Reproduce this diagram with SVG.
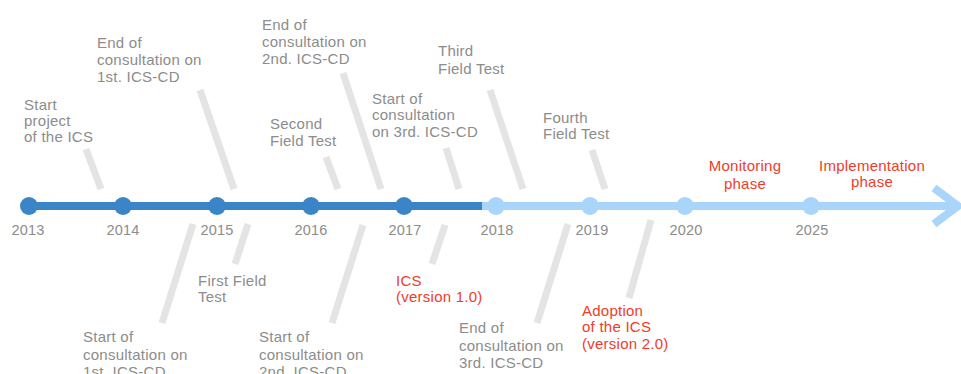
<svg xmlns="http://www.w3.org/2000/svg" width="961" height="374" viewBox="0 0 961 374">
<style>
text{font-family:"Liberation Sans",Arial,sans-serif;font-size:15px;letter-spacing:0.25px;fill:#8c8c8c}
.r{fill:#f03c28}
.yr{text-anchor:middle;font-size:14.5px;letter-spacing:0.2px}
.c{text-anchor:middle}
.bar{stroke:#e4e4e4;stroke-width:7;stroke-linecap:butt;fill:none}
.dk{fill:#3a85c8}
.lt{fill:#a9d5fb}
</style>
<rect width="961" height="374" fill="#ffffff"/>
<g id="connectors">
<line x1="29" y1="206" x2="482" y2="206" stroke="#3a85c8" stroke-width="8"/>
<line x1="482" y1="206" x2="956" y2="206" stroke="#a9d5fb" stroke-width="8"/>
<polyline points="934,188 958,206 934,224" fill="none" stroke="#a9d5fb" stroke-width="8"/>
</g>
<g id="y2013"><circle class="dk" cx="29" cy="206" r="9"/><text class="yr" x="28" y="235">2013</text></g>
<g id="y2014"><circle class="dk" cx="123" cy="206" r="9"/><text class="yr" x="123" y="235">2014</text></g>
<g id="y2015"><circle class="dk" cx="217" cy="206" r="9"/><text class="yr" x="217" y="235">2015</text></g>
<g id="y2016"><circle class="dk" cx="311" cy="206" r="9"/><text class="yr" x="311" y="235">2016</text></g>
<g id="y2017"><circle class="dk" cx="404" cy="206" r="9"/><text class="yr" x="405" y="235">2017</text></g>
<g id="y2018"><circle class="lt" cx="496" cy="206" r="9"/><text class="yr" x="497" y="235">2018</text></g>
<g id="y2019"><circle class="lt" cx="590" cy="206" r="9"/><text class="yr" x="592" y="235">2019</text></g>
<g id="y2020"><circle class="lt" cx="685" cy="206" r="9"/><text class="yr" x="686" y="235">2020</text></g>
<g id="y2025"><circle class="lt" cx="811" cy="206" r="9"/><text class="yr" x="812" y="235">2025</text></g>

<g id="start-project"><line class="bar" x1="86" y1="149" x2="101" y2="189"/>
<text x="24" y="110">Start</text><text x="24" y="126">project</text><text x="24" y="142">of the ICS</text></g>
<g id="end-consult-1"><line class="bar" x1="200" y1="90" x2="234" y2="189"/>
<text x="97" y="48">End of</text><text x="97" y="65">consultation on</text><text x="97" y="82">1st. ICS-CD</text></g>
<g id="second-field-test"><line class="bar" x1="326" y1="157" x2="338" y2="189"/>
<text x="270" y="129">Second</text><text x="270" y="146">Field Test</text></g>
<g id="end-consult-2"><line class="bar" x1="343" y1="73" x2="381" y2="189"/>
<text x="262" y="30">End of</text><text x="262" y="47">consultation on</text><text x="262" y="64">2nd. ICS-CD</text></g>
<g id="start-consult-3"><line class="bar" x1="446" y1="148" x2="459" y2="189"/>
<text x="372" y="104">Start of</text><text x="372" y="120">consultation</text><text x="372" y="137">on 3rd. ICS-CD</text></g>
<g id="third-field-test"><line class="bar" x1="490" y1="90" x2="523" y2="189"/>
<text x="438" y="56">Third</text><text x="438" y="74">Field Test</text></g>
<g id="fourth-field-test"><line class="bar" x1="592" y1="150" x2="605" y2="189"/>
<text x="543" y="123">Fourth</text><text x="543" y="139">Field Test</text></g>
<g id="monitoring"><text class="r c" x="745" y="171">Monitoring</text><text class="r c" x="745" y="189">phase</text></g>
<g id="implementation"><text class="r c" x="872" y="171">Implementation</text><text class="r c" x="872" y="187">phase</text></g>

<g id="start-consult-1"><line class="bar" x1="193" y1="224" x2="162" y2="323"/>
<text x="83" y="342">Start of</text><text x="83" y="360">consultation on</text><text x="83" y="377">1st. ICS-CD</text></g>
<g id="first-field-test"><line class="bar" x1="248" y1="224" x2="235" y2="264"/>
<text x="198" y="286">First Field</text><text x="198" y="302">Test</text></g>
<g id="start-consult-2"><line class="bar" x1="363" y1="225" x2="332" y2="323"/>
<text x="259" y="342">Start of</text><text x="259" y="360">consultation on</text><text x="259" y="377">2nd. ICS-CD</text></g>
<g id="ics-v1"><line class="bar" x1="445" y1="225" x2="432" y2="264"/>
<text class="r" x="396" y="286">ICS</text><text class="r" x="396" y="302">(version 1.0)</text></g>
<g id="end-consult-3"><line class="bar" x1="568" y1="224" x2="537" y2="323"/>
<text x="459" y="333">End of</text><text x="459" y="351">consultation on</text><text x="459" y="368">3rd. ICS-CD</text></g>
<g id="adoption"><line class="bar" x1="651" y1="220" x2="629" y2="298"/>
<text class="r" x="582" y="316">Adoption</text><text class="r" x="582" y="332">of the ICS</text><text class="r" x="582" y="349">(version 2.0)</text></g>
</svg>
